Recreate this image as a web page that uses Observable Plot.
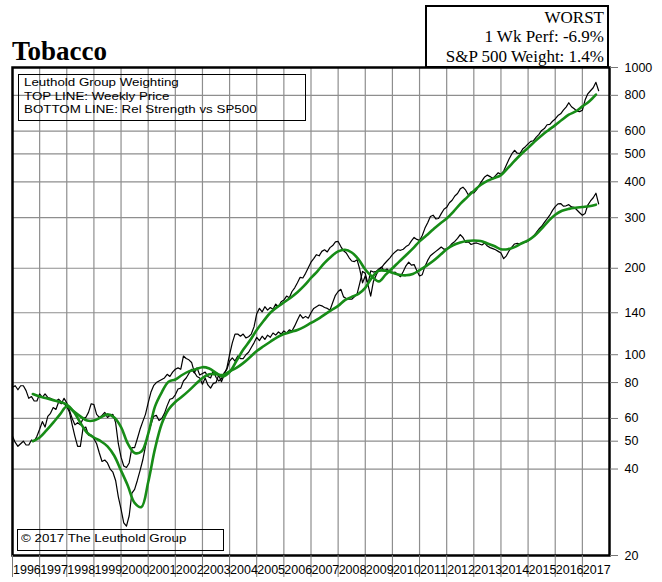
<!DOCTYPE html>
<html>
<head>
<meta charset="utf-8">
<script src="https://cdn.jsdelivr.net/npm/d3@7"></script>
<script src="https://cdn.jsdelivr.net/npm/@observablehq/plot@0.6"></script>
<style>
  body { margin: 0; background: #fff; }
  #wrap { position: relative; width: 662px; height: 582px; overflow: hidden; background: #fff; }
  #wrap svg { position: absolute; left: 0; top: 0; }
  .ov { position: absolute; box-sizing: border-box; }
  #title { left: 12px; top: 38px; font: bold 27px/27px "Liberation Serif", "Times New Roman", serif; color: #000; }
  #perf { left: 425px; top: 5px; width: 184px; height: 63px; border: 2.5px solid #000; background: #fff;
          text-align: right; padding: 0.5px 3px 0 0; font: 17px/19.5px "Liberation Serif", "Times New Roman", serif; color: #000; }
  #legend { left: 18px; top: 74px; width: 288px; height: 47px; border: 1.5px solid #000; padding: 1px 0 0 5px; }
  #copy { left: 17px; top: 529px; width: 207px; height: 22px; border: 1.5px solid #000; padding: 2.4px 0 0 2.5px; }
  .sx { transform: scaleX(1.16); transform-origin: 0 0; white-space: nowrap;
        font: 11.5px/13.5px "Liberation Sans", Arial, sans-serif; color: #000; }
</style>
</head>
<body>
<div id="wrap"></div>
<script>
// ---------- data ----------
const weeklyStart = 1996.0;   // first sample (decimal year)
const weeklyStep = 0.1;       // sampling interval (years)
const priceValues = [
  52,49.5,48,49,50,48.5,48.5,50.5,50,52,
  55,58.5,56,61,62.5,65.5,64.5,68.5,67.5,70.5,
  68,64,60,57,58,57,60,60.5,63,67.5,
  67,62,60.5,61.5,63,60.5,61.5,62,58,49,
  44,41,40.5,42,47.5,47.5,51,55,58.5,62,
  68,74,78,80,81,82,83,85.5,84,87,
  89,90,89,99,97,96,94,87,84,83,
  79,83,78.5,76.5,79.5,80,85,80.5,85,90,
  100,110,118,118,116,118,114.5,115.5,118,125,
  139,145,141,147,143,146,144,150,147,153,
  155,160,158,166,171,178,186,185,192,201,
  210,216,223,221,229,232,228,236,240,247,
  248,238,230,226,218,212,211,214,198,178,
  188,175,160,180,189,198,201,207,212,217,
  223,228,232,231,233,238,241,249,256,252,
  250,260,276,288,303,306,297,298,310,321,
  326,338,345,357,364,378,383,374,360,369,
  366,375,390,403,416,422,417,411,420,430,
  425,436,458,480,500,515,503,502,520,530,
  542,553,556,572,585,604,613,632,634,650,
  662,680,690,710,728,754,730,718,705,702,
  710,770,810,830,850,888,830
];
const rsValues = [
  77,78,75.5,78,78,75,70.5,71.5,69,69,
  73,71,73,71,70.5,69.5,69,70,68.5,67.5,
  66,63,57,52,48,48,55.5,56,52.5,52.5,
  51,49,45.5,42.5,43,42,40,39,36.5,32,
  29,26,25.3,27.5,33,34,36.5,39.5,43,48,
  53,57,61,61.5,59,60,62.5,66.5,70,70.5,
  72.5,76,76.5,81,83,86,89,86.5,90,85,
  86,87,84,83,88,83.5,81,82.5,86.5,89,
  95,97.5,95,99,97,97,100,102,106,110,
  115,112,116,113,117,115,119,117,120,118,
  121,119,122,121,126,132,138,134,136,134,
  140,145,147,149,148,146,145,143,152,161,
  166,169,159,157,156,156,159,163,178,195,
  192,176,196,194,195,199,202,196,199,195,
  193,194,190,187,195,204,210,205,206,196,
  188,190,203,213,221,225,229,233,237,233,
  233,238,244,248,254,262,256,246,247,242,
  244,245,243,241,245,239,236,234,232,229,
  226,216,221,230,237,243,244,243,246,246,
  249,253,259,266,274,280,289,297,306,318,
  328,335,336,329,330,333,327,326,319,312,
  306,310,332,343,352,365,335
];
const maStart = 1996.75;      // first moving-average sample
const maStep = 0.25;
const maPriceValues = [
  50,
  51.5,54.5,58,62,
  66,63.5,61,59,
  59,60.5,62,60.5,
  56,49,45.5,46,
  53,66,74,80.5,
  82,85,87.5,89,
  90.5,89.5,86.5,84,
  87,95,104,112,
  122,131,140,146.5,
  152,158,165,174,
  185,196,209,220,
  229,232,227,215,
  198,187,180,190,
  200,211,222,234,
  248,260,273,286,
  298,315,335,353,
  372,390,403,412,
  422,446,473,500,
  525,553,580,605,
  630,658,685,703,
  732,762,805
];
const maRsValues = [
  73,
  71.5,70.5,69.5,68.5,
  67,63.5,58,53.5,
  51.5,50,48,44.5,
  39.5,35,30.5,29.5,
  36,47,57.5,64.5,
  68.5,71.5,75,79,
  83,85.5,85.5,85,
  87.5,90,93.5,98,
  103,107,111,115,
  118,120,122,125,
  129,133,138,143,
  148,155,159,163,
  171,186,196,196,
  193,190,189,191,
  197,204,212,222,
  233,241,246,249,
  250,249,244,239,
  233,233,237,244,
  250,260,275,292,
  307,317,322,325,
  327,329,333
];
const xTickYears = [1996,1997,1998,1999,2000,2001,2002,2003,2004,2005,2006,2007,2008,2009,2010,2011,2012,2013,2014,2015,2016,2017];
const yTickValues = [1000,800,600,500,400,300,200,140,100,80,60,50,40,20];

// ---------- tables ----------
const weekly = priceValues.map((v, i) => ({t: weeklyStart + i * weeklyStep, price: v, rs: rsValues[i]}));
const ma = maPriceValues.map((v, i) => ({t: maStart + i * maStep, price: v, rs: maRsValues[i]}));

const GREEN = "#178c17";
const GRID = "#8e8e8e";

const chart = Plot.plot({
  width: 662,
  height: 582,
  marginTop: 67,
  marginBottom: 27,
  marginLeft: 12,
  marginRight: 53,
  x: {type: "linear", domain: [1996, 2018]},
  y: {type: "log", domain: [20, 1000]},
  style: {fontFamily: "'Liberation Sans', Arial, sans-serif", fontSize: "12.5px", color: "#000", background: "transparent", overflow: "visible"},
  marks: [
    Plot.ruleX(xTickYears.slice(1), {x: d => d, stroke: GRID, strokeWidth: 1.2}),
    Plot.ruleY(yTickValues, {y: d => d, stroke: GRID, strokeWidth: 1.2}),
    Plot.line(weekly, {x: "t", y: "rs", stroke: "#000", strokeWidth: 1.2}),
    Plot.line(weekly, {x: "t", y: "price", stroke: "#000", strokeWidth: 1.2}),
    Plot.line(ma, {x: "t", y: "rs", stroke: GREEN, strokeWidth: 2.6, curve: "catmull-rom"}),
    Plot.line(ma, {x: "t", y: "price", stroke: GREEN, strokeWidth: 2.6, curve: "catmull-rom"}),
    Plot.frame({stroke: "#000", strokeWidth: 2.5}),
    Plot.axisY({anchor: "right", ticks: yTickValues, tickFormat: () => "", tickSize: 8, stroke: "#777", label: null}),
    Plot.text(yTickValues, {y: d => d, text: d => String(d), frameAnchor: "right", dx: 15, textAnchor: "start", fontSize: 12.5, fill: "#000"}),
    Plot.axisX({anchor: "bottom", ticks: xTickYears, tickSize: 22, tickFormat: () => "", stroke: "#777", label: null}),
    Plot.text(xTickYears, {x: d => d, text: d => String(d), frameAnchor: "bottom", dy: 18, dx: 0.5, textAnchor: "start", fontSize: 12.5, fill: "#000"})
  ]
});

const wrap = document.getElementById("wrap");
wrap.appendChild(chart);

function addDiv(id, html, inner) {
  const d = document.createElement("div");
  d.className = "ov";
  d.id = id;
  if (inner) {
    const s = document.createElement("div");
    s.className = "sx";
    s.innerHTML = html;
    d.appendChild(s);
  } else {
    d.innerHTML = html;
  }
  wrap.appendChild(d);
}
addDiv("title", "Tobacco", false);
addDiv("perf", "WORST<br>1 Wk Perf: -6.9%<br>S&amp;P 500 Weight: 1.4%", false);
addDiv("legend", "Leuthold Group Weighting<br>TOP LINE: Weekly Price<br>BOTTOM LINE: Rel Strength vs SP500", true);
addDiv("copy", "© 2017 The Leuthold Group", true);
</script>
</body>
</html>
